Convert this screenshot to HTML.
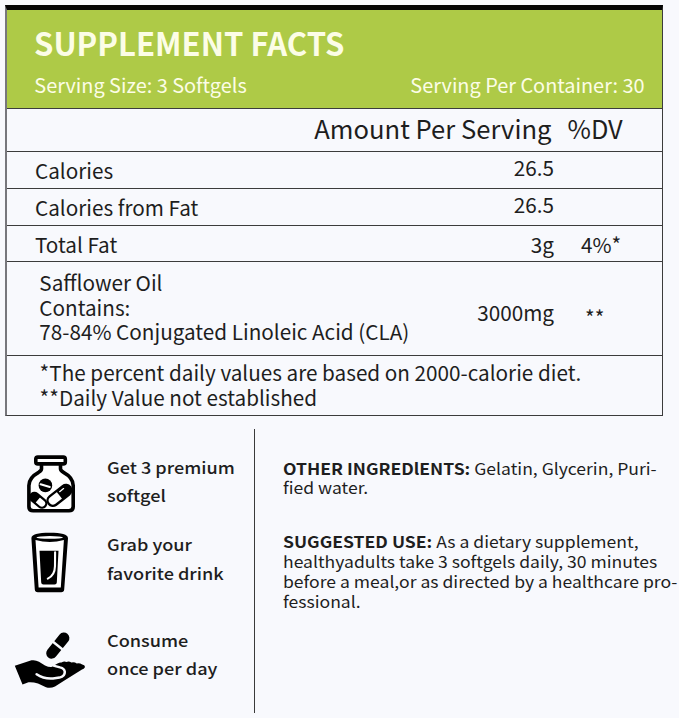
<!DOCTYPE html>
<html><head><meta charset="utf-8"><style>
html,body{margin:0;padding:0}
body{width:679px;height:718px;overflow:hidden;background:#f8f9fd;position:relative;font-family:"Noto Sans CJK JP", "Noto Sans CJK SC", "Liberation Sans", sans-serif;color:#1e1e1e}
.t{position:absolute;white-space:nowrap}
.t b{font-weight:700}
.box{position:absolute;left:5px;top:5px;width:655px;height:405px;border:1px solid #3c3c3c;border-left:2px solid #77777c;border-top:5px solid #050505;background:#f8f9fd}
.green{position:absolute;left:7px;top:10px;width:655px;height:98px;background:#aeca47}
.hl{position:absolute;left:7px;width:655px;height:1px;background:#3c3c3c}
.vl{position:absolute;left:254px;top:429px;width:1px;height:284px;background:#3a3a3a}
</style></head><body>
<div class="box"></div>
<div class="green"></div>
<div class="hl" style="top:108px"></div>
<div class="hl" style="top:151px"></div>
<div class="hl" style="top:188px"></div>
<div class="hl" style="top:225px"></div>
<div class="hl" style="top:261px"></div>
<div class="hl" style="top:355px"></div>
<div class="vl"></div>
<div class="t" style="left:34px;top:17.57px;font-size:31.8px;line-height:48px;font-weight:700;color:#fcfde6;transform:scaleX(0.977);transform-origin:0 0;">SUPPLEMENT FACTS</div>
<div class="t" style="left:34.3px;top:69.84px;font-size:19.9px;line-height:30px;color:#fcfde6;">Serving Size: 3 Softgels</div>
<div class="t" style="right:34.5px;text-align:right;top:69.84px;font-size:19.9px;line-height:30px;color:#fcfde6;">Serving Per Container: 30</div>
<div class="t" style="left:314.3px;top:109.16px;font-size:25.6px;line-height:38px;">Amount Per Serving</div>
<div class="t" style="left:567.5px;top:109.25px;font-size:25.4px;line-height:38px;">%DV</div>
<div class="t" style="left:35px;top:154.90px;font-size:20.7px;line-height:31px;">Calories</div>
<div class="t" style="right:125px;text-align:right;top:151.80px;font-size:20.7px;line-height:31px;">26.5</div>
<div class="t" style="left:35px;top:191.50px;font-size:20.7px;line-height:31px;">Calories from Fat</div>
<div class="t" style="right:125px;text-align:right;top:188.50px;font-size:20.7px;line-height:31px;">26.5</div>
<div class="t" style="left:35px;top:229.20px;font-size:20.7px;line-height:31px;">Total Fat</div>
<div class="t" style="right:125px;text-align:right;top:229.00px;font-size:20.7px;line-height:31px;">3g</div>
<div class="t" style="left:581px;top:229.00px;font-size:20.7px;line-height:31px;">4%*</div>
<div class="t" style="left:39.3px;top:267.40px;font-size:20.7px;line-height:31px;">Safflower Oil</div>
<div class="t" style="left:39.3px;top:291.90px;font-size:20.7px;line-height:31px;">Contains:</div>
<div class="t" style="left:39.3px;top:316.00px;font-size:20.7px;line-height:31px;">78-84% Conjugated Linoleic Acid (CLA)</div>
<div class="t" style="right:125px;text-align:right;top:297.10px;font-size:20.7px;line-height:31px;">3000mg</div>
<div class="t" style="left:585px;top:302.10px;font-size:20.7px;line-height:31px;">**</div>
<div class="t" style="left:39.6px;top:357.40px;font-size:20.7px;line-height:31px;">*The percent daily values are based on 2000-calorie diet.</div>
<div class="t" style="left:39.6px;top:381.70px;font-size:20.7px;line-height:31px;">**Daily Value not established</div>
<div class="t" style="left:106.5px;top:455.05px;font-size:16.2px;line-height:24px;font-weight:500;transform:scaleX(1.118);transform-origin:0 0;">Get 3 premium</div>
<div class="t" style="left:106.5px;top:482.85px;font-size:16.2px;line-height:24px;font-weight:500;transform:scaleX(1.118);transform-origin:0 0;">softgel</div>
<div class="t" style="left:106.5px;top:531.55px;font-size:16.2px;line-height:24px;font-weight:500;transform:scaleX(1.118);transform-origin:0 0;">Grab your</div>
<div class="t" style="left:106.5px;top:560.65px;font-size:16.2px;line-height:24px;font-weight:500;transform:scaleX(1.118);transform-origin:0 0;">favorite drink</div>
<div class="t" style="left:106.5px;top:628.45px;font-size:16.2px;line-height:24px;font-weight:500;transform:scaleX(1.118);transform-origin:0 0;">Consume</div>
<div class="t" style="left:106.5px;top:656.05px;font-size:16.2px;line-height:24px;font-weight:500;transform:scaleX(1.118);transform-origin:0 0;">once per day</div>
<div class="t" style="left:282.8px;top:455.64px;font-size:16px;line-height:24px;transform:scaleX(1.097);transform-origin:0 0;"><b>OTHER INGREDlENTS:</b> Gelatin, Glycerin, Puri-</div>
<div class="t" style="left:282.8px;top:475.44px;font-size:16px;line-height:24px;transform:scaleX(1.097);transform-origin:0 0;">fied water.</div>
<div class="t" style="left:282.8px;top:528.74px;font-size:16px;line-height:24px;transform:scaleX(1.097);transform-origin:0 0;"><b>SUGGESTED USE:</b> As a dietary supplement,</div>
<div class="t" style="left:282.8px;top:548.74px;font-size:16px;line-height:24px;transform:scaleX(1.097);transform-origin:0 0;">healthyadults take 3 softgels daily, 30 minutes</div>
<div class="t" style="left:282.8px;top:568.64px;font-size:16px;line-height:24px;transform:scaleX(1.097);transform-origin:0 0;">before a meal,or as directed by a healthcare pro-</div>
<div class="t" style="left:282.8px;top:588.64px;font-size:16px;line-height:24px;transform:scaleX(1.097);transform-origin:0 0;">fessional.</div>
<svg style="position:absolute;left:0;top:0" width="679" height="718" viewBox="0 0 679 718">
<!-- bottle -->
<path d="M41.5 465.6 V468.8 Q41.5 470.6 38.6 472.3 Q28.9 477.6 28.9 485.5 V506.5 Q28.9 510.7 33.1 510.7 H69 Q73.2 510.7 73.2 506.5 V485.5 Q73.2 477.6 63.5 472.3 Q60.5 470.6 60.5 468.8 V465.6Z" fill="#fff"/>
<g fill="none" stroke="#000" stroke-linejoin="round" stroke-linecap="round">
 <rect x="35.8" y="457.1" width="29.5" height="6.8" rx="2" stroke-width="3.6" fill="#fff"/>
 <path d="M41.5 465.6 V468.8 Q41.5 470.6 38.6 472.3 Q28.9 477.6 28.9 485.5 V506.5 Q28.9 510.7 33.1 510.7 H69 Q73.2 510.7 73.2 506.5 V485.5 Q73.2 477.6 63.5 472.3 Q60.5 470.6 60.5 468.8 V465.6" stroke-width="3.6"/>
</g>
<circle cx="45.4" cy="485.4" r="6.8" fill="#000"/>
<path d="M40.6 484.2 L49.8 487" stroke="#fff" stroke-width="2" stroke-linecap="round"/>
<g transform="translate(38.2,500.3) rotate(40)">
 <rect x="-9.2" y="-4.3" width="18.4" height="8.6" rx="4.3" fill="#fff" stroke="#000" stroke-width="2.2"/>
 <path d="M-9.2 0 A4.3 4.3 0 0 1 -4.9 -4.3 H-0.5 V4.3 H-4.9 A4.3 4.3 0 0 1 -9.2 0Z" fill="#000"/>
</g>
<g transform="translate(59.4,495.4) rotate(-38)">
 <rect x="-13.6" y="-5.3" width="27.2" height="10.6" rx="5.3" fill="#fff" stroke="#000" stroke-width="2.4"/>
 <path d="M0 -5.3 H8.3 A5.3 5.3 0 0 1 8.3 5.3 H0Z" fill="#000"/>
 <path d="M2.5 -2.8 H7.5" stroke="#fff" stroke-width="1.3" stroke-linecap="round"/>
</g>
<!-- glass -->
<path d="M31.4 538.3 C31.4 534.2 38 532.8 49.7 532.8 C61.4 532.8 68 534.2 68 538.3 L64.2 589.5 Q64 592.3 61.2 592.3 H37.8 Q35 592.3 34.8 589.5 Z" fill="#000"/>
<path d="M35.5 540 Q49.7 544.2 63.9 540 L60.8 587.6 H38.6 Z" fill="#fff"/>
<ellipse cx="49.7" cy="537.4" rx="13.2" ry="1.4" fill="#fff"/>
<path d="M39.5 550.8 H58.5 L56.8 582.5 Q56.7 584.6 54.6 584.6 H43.4 Q41.3 584.6 41.2 582.5 Z" fill="#000"/>
<path d="M55.1 552.3 L55 566 Q54.8 575.5 47.8 578.6" fill="none" stroke="#fff" stroke-width="2.1" stroke-linecap="round"/>
<!-- hand pill -->
<g transform="translate(57.8,645.6) rotate(-51)">
 <rect x="-15.2" y="-5.5" width="30.4" height="11" rx="5.5" fill="#000"/>
 <rect x="-1.2" y="-7" width="2.4" height="14" fill="#f8f9fd"/>
</g>
<!-- hand -->
<path d="M14.8 665.8 L31.5 660.3 Q35.5 659.6 39 661.8 L45 665.5 Q48.5 667.2 51.5 667 L57.5 663.6 Q59.5 662.4 61.5 662.6 Q64 661 66.4 662 Q69 661 71.4 662.6 Q74.2 661.8 76.8 663.4 Q79.6 662.8 82.2 664.4 Q85.4 665 84.8 667.4 Q84 668.8 82 669.6 L74 674.6 L64 680.8 L55 686.4 Q50.5 688.8 46 687.2 L38 683.6 Q33 681.8 28.5 682.2 L22.5 684.6 Z" fill="#000"/>
<path d="M36.6 674.2 Q44 679.2 53 678.4 L59.5 677.6 Q65 676.4 64.8 671.8 Q64.4 668.4 60 667.4 L53.5 665.6 L51 662" fill="none" stroke="#f8f9fd" stroke-width="2.5" stroke-linecap="round" stroke-linejoin="round"/>
</svg>

</body></html>
